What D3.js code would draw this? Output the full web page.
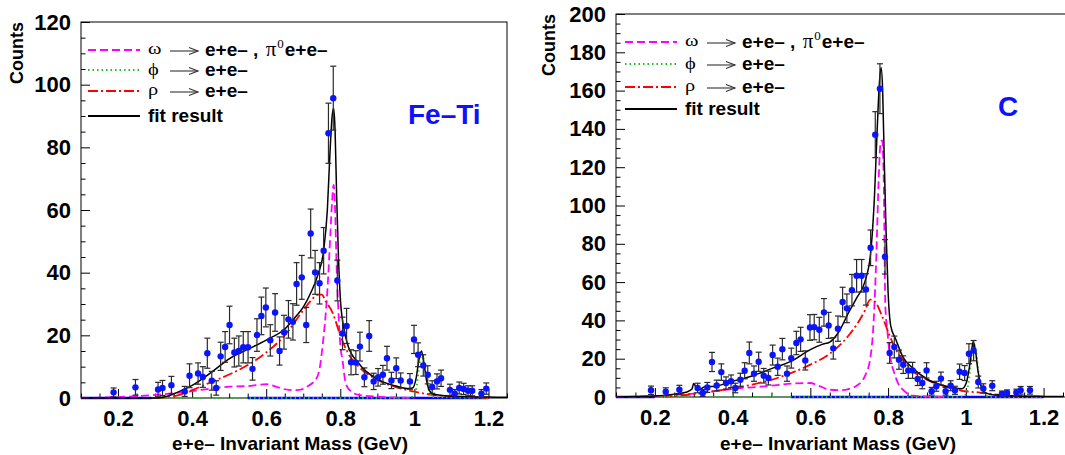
<!DOCTYPE html>
<html><head><meta charset="utf-8">
<script src="https://cdn.jsdelivr.net/npm/d3@7"></script>
<style>
body{margin:0;background:#fff;}
svg{display:block;}
</style></head><body>
<svg id="chart" width="1065" height="455"></svg>
<script>
// ---------------- data ----------------
const xDomain = [0.1, 1.25];
const xTickValues = [0.2, 0.4, 0.6, 0.8, 1.0, 1.2];
const xTickLabels = ["0.2", "0.4", "0.6", "0.8", "1", "1.2"];
const yTicksL = [0, 20, 40, 60, 80, 100, 120];
const yTicksR = [0, 20, 40, 60, 80, 100, 120, 140, 160, 180, 200];
const xTitle = "e+e\u2013 Invariant Mass (GeV)";
const yTitle = "Counts";
const legendSymbols = ["\u03c9", "\u03d5", "\u03c1", ""];
const legendTexts = ["e+e\u2013", "e+e\u2013", "e+e\u2013", "fit result"];
const legendExtra = ["\u03c0", "0", "e+e\u2013"];
const panelLabels = ["Fe\u2013Ti", "C"];

// Fe-Ti data
const massL = [0.188,0.247,0.308,0.320,0.344,0.380, 0.393,0.416,0.429,0.441,0.453,0.465, 0.477,0.489,0.501,0.514,0.526,0.538, 0.551,0.563,0.575,0.587,0.599,0.611, 0.624,0.636,0.648,0.660,0.672,0.682, 0.696,0.708,0.720,0.732,0.744,0.755, 0.768,0.781,0.792,0.806,0.817,0.829, 0.842,0.853,0.865,0.878,0.890,0.902, 0.915,0.926,0.938,0.951,0.963,0.988, 0.999,1.010,1.024,1.036,1.048,1.061, 1.072,1.096,1.109,1.121,1.133,1.145, 1.156,1.181,1.194];
const countsL = [1.8,3.4,2.7,3.2,4.1,2.1, 7.1,7.8,6.7,14.3,5.5,3.2, 13.3,16.3,23.3,14.5,15,16.2, 16.2,9.3,20.1,26.2,28.9,18.4, 27.3,15,21,25.1,24.3,36.4, 38.5,23.3,52.5,40.1,36.6,47, 84.5,95.7,37.5,20.6,23,11.4, 11.3,16.4,6.6,19.8,5.3,6.6, 7.4,12.7,5.6,9.5,5.6,5.3, 18.7,13.8,10.4,7.4,3.5,5.3, 6.3,2.6,1.4,3.2,2.9,2.3, 2.3,1.4,3.0];
const errorsL = [1.4,2.5,2.3,2.4,2.8,1.6, 3.8,3.4,3.3,4.8,3,2.3, 4.5,4.9,6,4.6,4.8,5, 5,3.6,5.2,6,6.2,5, 6,4.5,5.4,6,5.8,6.8, 7,5.6,7.8,7,6.6,7.4, 9.6,10.2,6.5,5.2,5.6,4, 3.8,4.6,3,4.9,2.6,2.8, 3,3.8,2.6,3.3,2.4,2.5, 4.5,3.8,3.4,2.9,2,2.4, 2.6,1.8,1.3,1.9,1.8,1.6, 1.6,1.3,1.8];

const fitMassL = [0.10,0.30,0.33,0.36,0.40,0.45,0.50,0.55,0.60,0.65,0.68,0.70,0.72,0.74,0.755,0.765,0.772,0.778,0.782,0.786,0.79,0.795,0.80,0.81,0.82,0.85,0.90,0.95,0.98,0.995,1.005,1.012,1.019,1.026,1.033,1.04,1.05,1.07,1.10,1.15,1.20,1.25];
const fitL = [0,0,0.5,1.8,4,8,12.5,15.5,18.5,22,26,29,33.5,39.5,47,60,78,90,92.5,85,65,45,32,22,17,11,6,3.8,3,3.2,6.5,12,15,11,5.5,2.5,1.3,0.9,0.6,0.4,0.3,0.2];
const omegaMassL = [0.10,0.20,0.30,0.40,0.45,0.50,0.55,0.58,0.60,0.62,0.64,0.66,0.68,0.70,0.71,0.725,0.735,0.745,0.753,0.76,0.767,0.773,0.778,0.782,0.786,0.79,0.794,0.80,0.806,0.815,0.83,0.85,0.90,0.95,1.0];
const omegaL = [0,0.3,1,2.2,3,3.6,3.8,4.2,4.4,3.9,3.1,2.6,2.5,2.9,3.6,4.8,6,10,17.5,26,38,52,63,68,60,42,30,17,12,4.5,2,1,0.4,0.15,0];
const rhoMassL = [0.30,0.35,0.40,0.45,0.50,0.55,0.60,0.65,0.70,0.72,0.74,0.75,0.76,0.78,0.80,0.82,0.85,0.90,0.95,1.00,1.05,1.10,1.15,1.20];
const rhoL = [0,0.5,2.5,5,7.5,10.5,14.5,20,28,31,33,33,31,27,20,14.5,10,5.8,3.5,2,1,0.5,0.2,0];
const phiMassL = [0.30,0.98,0.995,1.005,1.012,1.019,1.026,1.033,1.04,1.05,1.2];
const phiL = [0,0,0.5,3,9,14,12,6,2,0.3,0];
const baseSegL = [[0.1, 0.29], [0.55, 1.2]];

// C data
const massR = [0.190,0.228,0.263,0.310,0.323,0.335, 0.347,0.359,0.371,0.383,0.396,0.407, 0.420,0.431,0.443,0.455,0.467,0.480, 0.492,0.503,0.516,0.528,0.540,0.551, 0.564,0.575,0.587,0.599,0.610,0.623, 0.635,0.647,0.659,0.671,0.683,0.694, 0.707,0.719,0.732,0.743,0.755,0.767, 0.779,0.792,0.804,0.816,0.828,0.839, 0.852,0.863,0.876,0.888,0.899,0.912, 0.924,0.936,0.948,0.961,0.972,0.984, 0.997,1.008,1.020,1.032,1.045,1.068, 1.093,1.106,1.130,1.141,1.165];
const countsR = [3.5,2.8,3.8,4.7,2.1,5.0, 18.3,6,13,7.3,8.2,4.7, 9,13.7,23,12.2,18.4,11.1, 9.9,21.9,15.8,25,12.2,20.3, 28.2,30.1,19.1,36.3,36.5,35.1, 44.2,37.4,25.4,35.7,49.6,46.3, 55.8,63.3,63.3,56.2,77.9,137, 161,73.2,23,26.1,19.5,16.9, 13.9,13.9,9.4,7.3,13.9,3, 5.6,9.6,3,5.9,3.5,13.2, 12.5,22.6,24.2,7.8,4.5,5.9, 1.6,2.1,2.4,3.5,3.5];
const errorsR = [2.2,2,2.3,2.5,1.8,2.6, 5,2.8,4.3,3.2,3.3,2.5, 3.4,4.2,5.7,4,5,3.8, 3.6,5.2,4.5,5.6,4,5.2, 6.1,6.3,5,6.7,6.6,6.5, 7.2,6.8,5.6,6.6,7.7,7.5, 8.2,8.5,8.5,8.2,9.3,12, 13,9,5.4,5.7,5,4.6, 4.2,4.2,3.4,3,4,2, 2.6,3.4,2,2.6,2.1,4, 3.9,5.2,5.3,3.1,2.4,2.6, 1.5,1.6,1.7,2,2];

const fitMassR = [0.10,0.20,0.25,0.28,0.295,0.30,0.305,0.315,0.33,0.35,0.40,0.45,0.50,0.55,0.60,0.63,0.65,0.67,0.70,0.72,0.74,0.755,0.765,0.772,0.778,0.782,0.786,0.79,0.795,0.80,0.807,0.82,0.838,0.864,0.90,0.935,0.965,0.99,1.001,1.008,1.013,1.019,1.025,1.031,1.037,1.045,1.06,1.08,1.12,1.2,1.25];
const fitR = [0,0.5,1.5,2.5,4,7,5.5,4,5.5,5.5,8.2,11,14.8,18.6,24.7,27.5,28.7,33,44.7,52,60,75,105,140,165,172,160,125,85,55,37,30,21,15,9.4,6.4,4.9,4.3,7.3,14,21,29,24,14,7.3,3,1.5,1,0.6,0.3,0.2];
const omegaMassR = [0.10,0.20,0.30,0.40,0.50,0.55,0.60,0.62,0.65,0.68,0.70,0.72,0.74,0.754,0.763,0.77,0.776,0.781,0.785,0.789,0.793,0.798,0.802,0.808,0.816,0.826,0.838,0.864,0.9,0.95];
const omegaR = [0,0.5,1.8,4.2,5.9,7,7.3,6,3.8,3.6,4.3,6,10.8,20,40,75,115,133,134,110,47,35,26,18,12.5,7,3.8,0.7,0.3,0];
const rhoMassR = [0.22,0.25,0.30,0.35,0.40,0.45,0.50,0.55,0.60,0.65,0.70,0.72,0.74,0.754,0.765,0.785,0.802,0.82,0.838,0.864,0.89,0.926,0.961,0.997,1.032,1.07,1.103,1.15,1.2];
const rhoR = [0,0.5,1.5,3,4.5,6.5,9,12.5,16.9,22.6,32.5,38,45,50.8,50,42,33,24.7,19.5,13.4,10,6.8,4.7,3,2.4,1.5,0.7,0.3,0];
const phiMassR = [0.20,0.99,1.0,1.008,1.014,1.02,1.026,1.032,1.04,1.05,1.06,1.2];
const phiR = [0,0,1.5,9,20,28,24,14,5,1,0,0];
const baseSegR = [[0.1, 0.2], [0.55, 1.2]];

// ---------------- drawing ----------------
const svg = d3.select("#chart");
const SANS = "'Liberation Sans', Arial, Helvetica, sans-serif";
const SERIF = "'Liberation Serif', 'Times New Roman', serif";
const zip = (a, b) => a.map((v, i) => [v, b[i]]);

const styles = {
  omega: {stroke: "#ff00ff", width: 1.8, dash: "8,4"},
  phi: {stroke: "#22bb22", width: 1.8, dash: "1.5,3"},
  rho: {stroke: "#ff0000", width: 1.8, dash: "10,3,2,3"},
  fit: {stroke: "#000000", width: 1.5, dash: null}
};

function drawPanel(p, idx) {
  const x = d3.scaleLinear().domain(xDomain).range([p.left, p.right]);
  const y = d3.scaleLinear().domain([0, p.ymax]).range([p.bottom, p.top]);
  const g = svg.append("g");

  const clipId = "clip" + idx;
  svg.append("clipPath").attr("id", clipId).append("rect")
    .attr("x", p.left).attr("y", p.top).attr("width", p.right - p.left).attr("height", p.bottom - p.top + 2);

  // frame
  g.append("rect").attr("x", p.left).attr("y", p.top)
    .attr("width", p.frameRight - p.left).attr("height", p.bottom - p.top)
    .attr("fill", "none").attr("stroke", "#000").attr("stroke-width", 1);

  // y axis major + minor
  const yAx = g.append("g").attr("transform", `translate(${p.left},0)`)
    .call(d3.axisLeft(y).tickValues(p.yTicks).tickFormat(d3.format("d")).tickSizeInner(-9).tickSizeOuter(0).tickPadding(10));
  yAx.select(".domain").remove();
  yAx.selectAll("text").attr("font-family", SANS).attr("font-weight", "bold").attr("font-size", 22).attr("fill", "#000");
  const yMinor = d3.range(0, p.ymax + 0.001, 5).filter(v => v % 20 !== 0);
  const yAxm = g.append("g").attr("transform", `translate(${p.left},0)`)
    .call(d3.axisLeft(y).tickValues(yMinor).tickFormat("").tickSizeInner(-4.5).tickSizeOuter(0));
  yAxm.select(".domain").remove();

  // x axis major + minor
  const xAx = g.append("g").attr("transform", `translate(0,${p.bottom})`)
    .call(d3.axisBottom(x).tickValues(xTickValues).tickFormat((d, i) => xTickLabels[i]).tickSizeInner(-9).tickSizeOuter(0).tickPadding(12));
  xAx.select(".domain").remove();
  xAx.selectAll("text").attr("font-family", SANS).attr("font-weight", "bold").attr("font-size", 22).attr("fill", "#000");
  const xMinor = d3.range(0.1, 1.2501, 0.05).filter(v => Math.abs(Math.round(v * 5) - v * 5) > 0.01);
  const xAxm = g.append("g").attr("transform", `translate(0,${p.bottom})`)
    .call(d3.axisBottom(x).tickValues(xMinor).tickFormat("").tickSizeInner(-4.5).tickSizeOuter(0));
  xAxm.select(".domain").remove();

  // titles
  g.append("text").attr("x", (p.left + p.xTitleCenter)).attr("y", 450)
    .attr("text-anchor", "middle").attr("font-family", SANS).attr("font-weight", "bold").attr("font-size", 19)
    .text(xTitle);
  g.append("text").attr("transform", `translate(${p.yTitleX},${p.top}) rotate(-90)`)
    .attr("text-anchor", "end").attr("font-family", SANS).attr("font-weight", "bold").attr("font-size", 18)
    .text(yTitle);

  const plot = g.append("g").attr("clip-path", `url(#${clipId})`);
  const line = d3.line().x(d => x(d[0])).y(d => y(d[1])).curve(d3.curveMonotoneX);

  // baseline (blue)
  p.baseSeg.forEach(s => {
    plot.append("line").attr("x1", x(s[0])).attr("x2", x(s[1])).attr("y1", y(0)).attr("y2", y(0))
      .attr("stroke", "#0000ff").attr("stroke-width", 2.5);
  });

  const curves = [["omega", p.omega], ["rho", p.rho], ["phi", p.phi], ["fit", p.fit]];
  curves.forEach(([k, data]) => {
    const st = styles[k];
    plot.append("path").datum(data).attr("d", line)
      .attr("fill", "none").attr("stroke", st.stroke).attr("stroke-width", st.width)
      .attr("stroke-dasharray", st.dash);
  });

  // error bars
  const pts = p.mass.map((m, i) => ({m: m, v: p.counts[i], e: p.errors[i]}));
  const eb = plot.append("g").attr("stroke", "#2a2a2a").attr("stroke-width", 1.2);
  pts.forEach(d => {
    const xx = x(d.m), y1 = y(Math.max(0, d.v - d.e)), y2 = y(d.v + d.e);
    eb.append("line").attr("x1", xx).attr("x2", xx).attr("y1", y1).attr("y2", y2);
    eb.append("line").attr("x1", xx - 3).attr("x2", xx + 3).attr("y1", y2).attr("y2", y2);
    eb.append("line").attr("x1", xx - 3).attr("x2", xx + 3).attr("y1", y1).attr("y2", y1);
  });
  plot.append("g").selectAll("circle").data(pts).join("circle")
    .attr("cx", d => x(d.m)).attr("cy", d => y(d.v)).attr("r", 3.2).attr("fill", "#0a14ff");

  // legend
  const lg = g.append("g");
  const keys = ["omega", "phi", "rho", "fit"];
  const symDy = [4, 5, 4, 0];
  keys.forEach((k, i) => {
    const ly = p.legendY[i];
    const x0 = p.legendX;
    const st = styles[k];
    lg.append("line").attr("x1", x0).attr("x2", x0 + 52).attr("y1", ly).attr("y2", ly)
      .attr("stroke", st.stroke).attr("stroke-width", k === "fit" ? 2.2 : 2).attr("stroke-dasharray", st.dash);
    if (k === "fit") {
      lg.append("text").attr("x", x0 + 60).attr("y", ly + 6).attr("font-family", SANS).attr("font-weight", "bold")
        .attr("font-size", 19).text(legendTexts[i]);
      return;
    }
    lg.append("text").attr("x", x0 + 60).attr("y", ly + symDy[i]).attr("font-family", SERIF).attr("font-size", 17)
      .attr("transform", `translate(${x0 + 60},${ly}) scale(1.2,1) translate(${-(x0 + 60)},${-ly})`)
      .text(legendSymbols[i]);
    // arrow
    const ax1 = x0 + 82, ax2 = x0 + 110, ay = ly + 1;
    lg.append("line").attr("x1", ax1).attr("x2", ax2).attr("y1", ay).attr("y2", ay).attr("stroke", "#333").attr("stroke-width", 1.1);
    lg.append("path").attr("d", `M${ax2 - 9},${ay - 3.5} L${ax2},${ay} L${ax2 - 9},${ay + 3.5}`)
      .attr("fill", "none").attr("stroke", "#333").attr("stroke-width", 1.1);
    const t = lg.append("text").attr("x", x0 + 117).attr("y", ly + 6).attr("font-family", SANS).attr("font-weight", "bold").attr("font-size", 19);
    t.append("tspan").text(legendTexts[i]);
    if (i === 0) {
      t.append("tspan").text(" , ");
      t.append("tspan").attr("dx", 2).attr("font-family", SERIF).attr("font-weight", "normal").attr("font-size", 21).text(legendExtra[0]);
      t.append("tspan").attr("dx", 1).attr("dy", -8).attr("font-family", SERIF).attr("font-weight", "normal").attr("font-size", 13).text(legendExtra[1]);
      t.append("tspan").attr("dx", 1).attr("dy", 8).text(legendExtra[2]);
    }
  });

  // panel label
  g.append("text").attr("x", p.labelX).attr("y", p.labelY).attr("font-family", SANS).attr("font-weight", "bold")
    .attr("font-size", 28).attr("fill", "#1010ff").text(panelLabels[idx]);
}

drawPanel({
  left: 81, right: 507, frameRight: 507, top: 22, bottom: 398, ymax: 120, yTicks: yTicksL,
  xTitleCenter: 209, yTitleX: 23,
  mass: massL, counts: countsL, errors: errorsL,
  fit: zip(fitMassL, fitL), omega: zip(omegaMassL, omegaL), rho: zip(rhoMassL, rhoL), phi: zip(phiMassL, phiL),
  baseSeg: baseSegL,
  legendX: 88, legendY: [50, 70, 91, 116],
  labelX: 408, labelY: 124
}, 0);

drawPanel({
  left: 616, right: 1063, frameRight: 1070, top: 14, bottom: 397, ymax: 200, yTicks: yTicksR,
  xTitleCenter: 222, yTitleX: 555,
  mass: massR, counts: countsR, errors: errorsR,
  fit: zip(fitMassR, fitR), omega: zip(omegaMassR, omegaR), rho: zip(rhoMassR, rhoR), phi: zip(phiMassR, phiR),
  baseSeg: baseSegR,
  legendX: 625, legendY: [42, 64, 87, 109],
  labelX: 998, labelY: 116
}, 1);
</script>
</body></html>
